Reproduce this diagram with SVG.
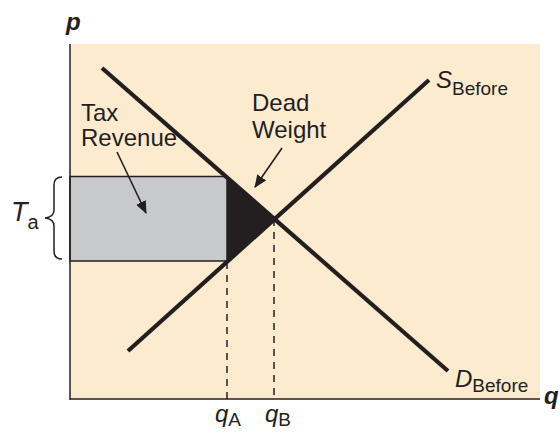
<svg xmlns="http://www.w3.org/2000/svg" width="560" height="432" viewBox="0 0 560 432">
<defs>
<style>
.lbl{font-family:"Liberation Sans",Arial,sans-serif;fill:#231f20;font-size:24px}
.ax{font-family:"Liberation Sans",Arial,sans-serif;font-weight:bold;font-style:italic;fill:#231f20;font-size:24px}
.it{font-style:italic}
.sub{font-size:19px}
.curve{stroke:#231f20;stroke-width:4.2;fill:none;stroke-linecap:butt}
.dash{stroke:#231f20;stroke-width:1.5;stroke-dasharray:7,6;fill:none}
.arr{stroke:#231f20;stroke-width:1.6;fill:none}
</style>
<marker id="ah" viewBox="0 0 12 10" refX="11" refY="5" markerWidth="8" markerHeight="7" orient="auto" markerUnits="strokeWidth">
<path d="M0,0 L12,5 L0,10 Z" fill="#231f20"/>
</marker>
</defs>
<rect width="560" height="432" fill="#ffffff"/>
<g id="plot-area">
<rect x="70" y="44" width="470" height="355" fill="#fdebd0"/>
</g>
<g id="tax-revenue-area">
<rect x="70" y="176.5" width="157" height="84.5" fill="#c8c9cb" stroke="#231f20" stroke-width="1.5"/>
</g>
<g id="dead-weight-area">
<polygon points="227,177 274,218.5 227,261" fill="#231f20"/>
</g>
<g id="connectors">
<line class="curve" x1="102" y1="68" x2="448" y2="371"/>
<line class="curve" x1="128" y1="351" x2="429" y2="80"/>
<line class="dash" x1="227" y1="262" x2="227" y2="399"/>
<line class="dash" x1="274" y1="219" x2="274" y2="399"/>
<line class="arr" x1="117" y1="152" x2="146" y2="213" marker-end="url(#ah)"/>
<line class="arr" x1="282" y1="148" x2="255" y2="187" marker-end="url(#ah)"/>
<path d="M62,177 Q54,177 54,185 L54,210 Q54,217 45,218 Q54,219 54,226 L54,251 Q54,259 62,259" stroke="#231f20" stroke-width="1.5" fill="none"/>
</g>
<g id="axes">
<line x1="70" y1="44" x2="70" y2="400" stroke="#231f20" stroke-width="1.5"/>
<line x1="70" y1="399" x2="540" y2="399" stroke="#231f20" stroke-width="1.5"/>
<text class="ax" x="66" y="30">p</text>
<text class="ax" x="544" y="404">q</text>
</g>
<g id="labels">
<text class="lbl" x="81" y="121">Tax</text>
<text class="lbl" x="81" y="146">Revenue</text>
<text class="lbl" x="252" y="111">Dead</text>
<text class="lbl" x="252" y="138">Weight</text>
<text class="lbl" x="11" y="221" style="font-size:27px"><tspan class="it">T</tspan><tspan class="sub" dy="8" style="font-size:20px">a</tspan></text>
<text class="lbl" x="436" y="88"><tspan class="it">S</tspan><tspan class="sub" dy="7">Before</tspan></text>
<text class="lbl" x="455" y="387"><tspan class="it">D</tspan><tspan class="sub" dy="5">Before</tspan></text>
<text class="lbl" x="215" y="422"><tspan class="it">q</tspan><tspan class="sub" dy="4">A</tspan></text>
<text class="lbl" x="265" y="422"><tspan class="it">q</tspan><tspan class="sub" dy="4">B</tspan></text>
</g>
</svg>
